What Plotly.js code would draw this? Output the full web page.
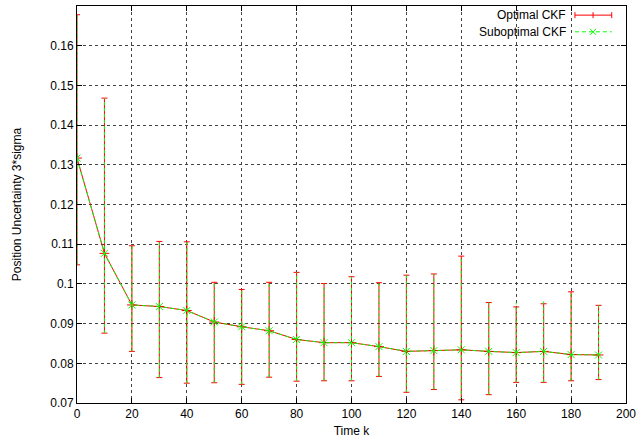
<!DOCTYPE html>
<html><head><meta charset="utf-8">
<script src="https://cdn.plot.ly/plotly-3.0.1.min.js"></script>
<style>html,body{margin:0;padding:0;background:#fff}#c{width:637px;height:445px}</style>
</head><body><div id="c"></div>
<script>
const timeK = [0,10,20,30,40,50,60,70,80,90,100,110,120,130,140,150,160,170,180,190];
const optMean = [0.1317,0.1077,0.0947,0.0943,0.0933,0.0904,0.0892,0.0882,0.0860,0.0852,0.0852,0.0842,0.0830,0.0832,0.0834,0.0830,0.0827,0.0830,0.0822,0.0821];
const optHigh = [0.1678,0.1468,0.1096,0.1107,0.1106,0.1004,0.0986,0.1004,0.1029,0.1001,0.1018,0.1003,0.1022,0.1025,0.1070,0.0953,0.0942,0.0950,0.0980,0.0946];
const optLow  = [0.1048,0.0876,0.0830,0.0764,0.0750,0.0751,0.0747,0.0765,0.0755,0.0756,0.0756,0.0767,0.0727,0.0734,0.0708,0.0721,0.0752,0.0752,0.0756,0.0759];
const subMean = [0.1317,0.1077,0.0947,0.0943,0.0933,0.0904,0.0892,0.0882,0.0860,0.0852,0.0852,0.0842,0.0830,0.0832,0.0834,0.0830,0.0827,0.0830,0.0822,0.0821];
const subHigh = [0.1678,0.1468,0.1096,0.1107,0.1106,0.1004,0.0986,0.1004,0.1029,0.1001,0.1018,0.1003,0.1022,0.1025,0.1070,0.0953,0.0953,0.0962,0.0980,0.0946];
const subLow  = [0.1048,0.0876,0.0830,0.0764,0.0750,0.0751,0.0747,0.0765,0.0755,0.0756,0.0756,0.0767,0.0727,0.0734,0.0708,0.0721,0.0752,0.0752,0.0756,0.0759];
const seriesNames = ["Optimal CKF","Suboptimal CKF"];
const xTicks = [0,20,40,60,80,100,120,140,160,180,200];
const yTicks = [0.07,0.08,0.09,0.1,0.11,0.12,0.13,0.14,0.15,0.16,0.17];
const yTickText = ["0.07","0.08","0.09","0.1","0.11","0.12","0.13","0.14","0.15","0.16","0.17"];

const RED = "#ff0000", GREEN = "#00ff00";
const FONT = "Liberation Sans, Arial, sans-serif";

// green dashed error segments built from data
const segX = [], segY = [];
timeK.forEach((k,i)=>{ segX.push(k,k,null); segY.push(subLow[i],subHigh[i],null); });

const traces = [
  {x: timeK, y: optMean, type:"scatter", mode:"lines+markers", name: seriesNames[0],
   line:{color:RED, width:1},
   marker:{symbol:"cross-thin", size:7, line:{color:RED, width:1}, color:RED},
   error_y:{type:"data", symmetric:false,
     array: optHigh.map((h,i)=>h-optMean[i]),
     arrayminus: optMean.map((m,i)=>m-optLow[i]),
     color:RED, thickness:1, width:3},
   showlegend:false, hoverinfo:"x+y"},
  {x: segX, y: segY, type:"scatter", mode:"lines", line:{color:GREEN, width:1, dash:"3px,3px"},
   showlegend:false, hoverinfo:"skip", connectgaps:false},
  {x: timeK, y: subMean, type:"scatter", mode:"lines+markers", name: seriesNames[1],
   line:{color:GREEN, width:1, dash:"4px,3px"},
   marker:{symbol:"x-thin", size:7, line:{color:GREEN, width:1}, color:GREEN},
   showlegend:false, hoverinfo:"x+y"}
];

const axisCommon = {
  showline:true, linecolor:"#000", linewidth:1, mirror:"ticks",
  ticks:"inside", ticklen:5, tickcolor:"#000", tickwidth:1,
  showgrid:true, gridcolor:"#444", griddash:"dot", gridwidth:1,
  zeroline:false, tickfont:{family:FONT, size:12, color:"#000"}
};

// legend (paper coordinates) — placed to mimic gnuplot key
const lx0 = 0.907, lx1 = 0.974, lxm = 0.940, ly1 = 0.977, ly2 = 0.935, ltext = 0.894;
const shapes = [
  {type:"line", xref:"paper", yref:"paper", x0:lx0, x1:lx1, y0:ly1, y1:ly1, line:{color:RED, width:1}},
  {type:"line", xref:"paper", yref:"paper", ysizemode:"pixel", yanchor:ly1, x0:lx0, x1:lx0, y0:-3, y1:3, line:{color:RED, width:1}},
  {type:"line", xref:"paper", yref:"paper", ysizemode:"pixel", yanchor:ly1, x0:lx1, x1:lx1, y0:-3, y1:3, line:{color:RED, width:1}},
  {type:"line", xref:"paper", yref:"paper", ysizemode:"pixel", yanchor:ly1, x0:lxm, x1:lxm, y0:-3, y1:3, line:{color:RED, width:1}},
  {type:"line", xref:"paper", yref:"paper", x0:lx0, x1:lx1, y0:ly2, y1:ly2, line:{color:GREEN, width:1, dash:"4px,3px"}},
  {type:"line", xref:"paper", yref:"paper", xsizemode:"pixel", xanchor:lxm, ysizemode:"pixel", yanchor:ly2, x0:-3, x1:3, y0:-3, y1:3, line:{color:GREEN, width:1}},
  {type:"line", xref:"paper", yref:"paper", xsizemode:"pixel", xanchor:lxm, ysizemode:"pixel", yanchor:ly2, x0:-3, x1:3, y0:3, y1:-3, line:{color:GREEN, width:1}}
];
const annotations = [
  {xref:"paper", yref:"paper", x:ltext, y:ly1, xanchor:"right", yanchor:"middle", text:seriesNames[0], showarrow:false, font:{family:FONT, size:12, color:"#000"}},
  {xref:"paper", yref:"paper", x:ltext, y:ly2, xanchor:"right", yanchor:"middle", text:seriesNames[1], showarrow:false, font:{family:FONT, size:12, color:"#000"}}
];

const layout = {
  width:637, height:445,
  margin:{l:77, r:11, t:6, b:42},
  paper_bgcolor:"#fff", plot_bgcolor:"#fff",
  showlegend:false,
  xaxis: Object.assign({}, axisCommon, {range:[0,200], tickvals:xTicks, ticktext:xTicks.map(String),
    title:{text:"Time k", font:{family:FONT, size:12, color:"#000"}, standoff:6}}),
  yaxis: Object.assign({}, axisCommon, {range:[0.07,0.17], tickvals:yTicks, ticktext:yTickText,
    title:{text:"Position Uncertainty 3*sigma", font:{family:FONT, size:12, color:"#000"}, standoff:26}}),
  shapes: shapes, annotations: annotations
};

Plotly.newPlot("c", traces, layout, {displayModeBar:false, staticPlot:true});
</script>
</body></html>
